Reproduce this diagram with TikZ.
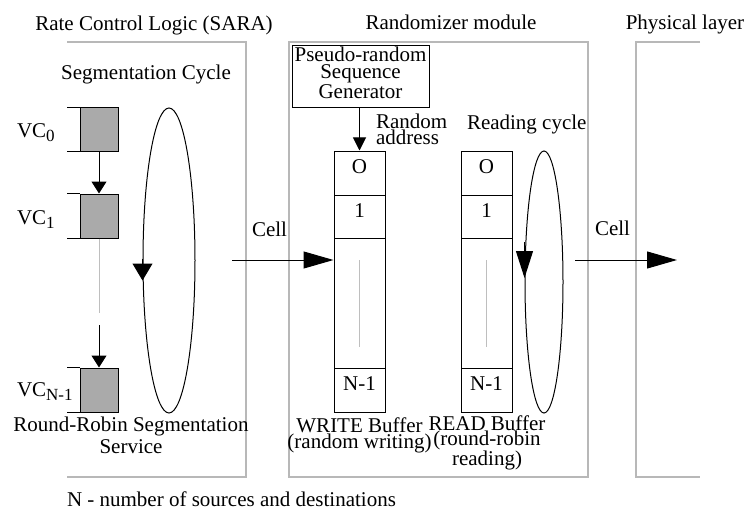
\documentclass[tikz,border=0pt]{standalone}
\usepackage{fontspec}
\setmainfont{Liberation Serif}
\usetikzlibrary{arrows.meta,shapes.geometric,calc}
\definecolor{panelgray}{RGB}{184,184,184}
\definecolor{boxgray}{RGB}{170,170,170}
\definecolor{dotgray}{RGB}{190,190,190}
\newcommand\vcsub[1]{\raisebox{-4.5pt}{\fontsize{17}{17}\selectfont #1}}
\begin{document}
\begin{tikzpicture}[x=1pt,y=-1pt,
  txt/.style={font=\fontsize{21}{17}\selectfont, inner sep=0pt, outer sep=0pt},
  panel/.style={draw=panelgray, line width=1.1pt},
  vcbox/.style={draw, fill=boxgray, line width=1pt, inner sep=0pt, minimum width=38pt},
  cellbox/.style={draw, line width=1pt, inner sep=0pt, minimum width=51pt},
  loop/.style={draw, ellipse, line width=1pt, inner sep=0pt},
  link/.style={line width=1pt},
  smallhead/.style={link, -{Triangle[length=12pt,width=15pt]}},
  bighead/.style={link, -{Triangle[length=30pt,width=17pt]}},
  guide/.style={draw=dotgray, line width=1pt}]
\useasboundingbox (0,0) rectangle (748,511);

% module frames
\draw[panel] (67,42) -- (246,42) -- (246,477) -- (67,477);
\draw[panel] (289,42) rectangle (588,477);
\draw[panel] (700,42) -- (636,42) -- (636,477) -- (700,477);

% module titles
\node[txt, anchor=base] (titleRate) at (154,31) {Rate Control Logic (SARA)};
\node[txt, anchor=base] (titleRand) at (451,30) {Randomizer module};
\node[txt, anchor=base] (titlePhys) at (685,30) {Physical layer};

% ---- segmentation side ----
\node[txt, anchor=base] (segTitle) at (146,80) {Segmentation Cycle};

\node[vcbox, minimum height=43pt] (vc0) at (99,129.5) {};
\node[vcbox, minimum height=44pt] (vc1) at (99,216) {};
\node[vcbox, minimum height=44pt] (vcn) at (99,390) {};
\foreach \b in {vc0,vc1,vcn}{
  \draw[link] (\b.north west) -- ++(-13,0);
  \draw[link] (\b.south west) -- ++(-13,0);
}
\node[txt, anchor=base west] (vc0lab) at (17,137) {VC\vcsub{0}};
\node[txt, anchor=base west] (vc1lab) at (17,224) {VC\vcsub{1}};
\node[txt, anchor=base west] (vcnlab) at (17,396) {VC\vcsub{N-1}};

\coordinate (gapTop) at (99,313);
\coordinate (gapBot) at (99,325);
\draw[smallhead] (vc0.south) -- (vc1.north);
\draw[guide] (vc1.south) -- (gapTop);
\draw[smallhead] (gapBot) -- (vcn.north);

\node[loop, minimum width=52pt, minimum height=305pt] (segcyc) at (169,260.5) {};
\draw[link, -{Triangle[length=17pt,width=20pt]}] ($(segcyc.west)+(0,-2)$) -- ($(segcyc.west)+(0,20)$);

\node[txt, align=center] (rrLab) at (131,435.4) {Round-Robin Segmentation\\[2pt]Service};

% cell towards the randomizer
\coordinate (cellA) at (232,260);
\node[txt, anchor=base west] (cellLabA) at (252,236) {Cell};

% ---- randomizer ----
\node[draw, line width=1pt, minimum width=137pt, minimum height=62pt, inner sep=0pt] (prng) at (360.5,77) {};
\node[txt, align=center] (prngLab) at (360.5,72.9) {Pseudo-random\\Sequence\\[1pt]Generator};

% write buffer
\node[cellbox, minimum height=44pt] (w0) at (359.5,173) {};
\node[cellbox, minimum height=43pt] (w1) at (359.5,216.5) {};
\node[cellbox, minimum height=130pt] (wm) at (359.5,303) {};
\node[cellbox, minimum height=44pt] (wn) at (359.5,390) {};
\node[txt, anchor=base] at (359.5,173) {O};
\node[txt, anchor=base] at (359.5,217) {1};
\node[txt, anchor=base] at (359.5,390) {N-1};
\draw[guide] (359.5,260) -- (359.5,347);

% read buffer
\node[cellbox, minimum height=44pt] (r0) at (486.5,173) {};
\node[cellbox, minimum height=43pt] (r1) at (486.5,216.5) {};
\node[cellbox, minimum height=130pt] (rm) at (486.5,303) {};
\node[cellbox, minimum height=44pt] (rn) at (486.5,390) {};
\node[txt, anchor=base] at (486.5,173) {O};
\node[txt, anchor=base] at (486.5,217) {1};
\node[txt, anchor=base] at (486.5,390) {N-1};
\draw[guide] (486.5,260) -- (486.5,347);

% random address feed
\draw[link, -{Triangle[length=13pt,width=13pt]}] (w0.north |- prng.south) -- (w0.north);
\node[txt, align=left, anchor=west, font=\fontsize{21}{13}\selectfont] (addrLab) at (376,129.4) {Random\\address};

% reading cycle
\node[txt, anchor=base west] (readTitle) at (467,130) {Reading cycle};
\node[loop, minimum width=38pt, minimum height=262pt] (readcyc) at (544,282) {};
\draw[link, -{Triangle[length=27pt,width=17pt]}] ($(readcyc.west)+(0,-40)$) -- ($(readcyc.west)+(0,-4)$);

% cell arrows
\draw[bighead] (cellA) -- (cellA -| wm.west);
\coordinate (cellB) at (575,260);
\coordinate (physIn) at (677,260);
\draw[bighead] (cellB) -- (physIn);
\node[txt, anchor=base west] (cellLabB) at (595,235) {Cell};

% buffer captions
\node[txt, align=center, font=\fontsize{21}{14}\selectfont] (wLab) at (359.5,435.1) {WRITE Buffer\\(random writing)};
\node[txt, align=center, font=\fontsize{21}{15}\selectfont] (rLab) at (487,443.1) {READ Buffer\\(round-robin\\reading)};

% footnote
\node[txt, anchor=base west] (note) at (67,506) {N - number of sources and destinations};
\end{tikzpicture}
\end{document}
